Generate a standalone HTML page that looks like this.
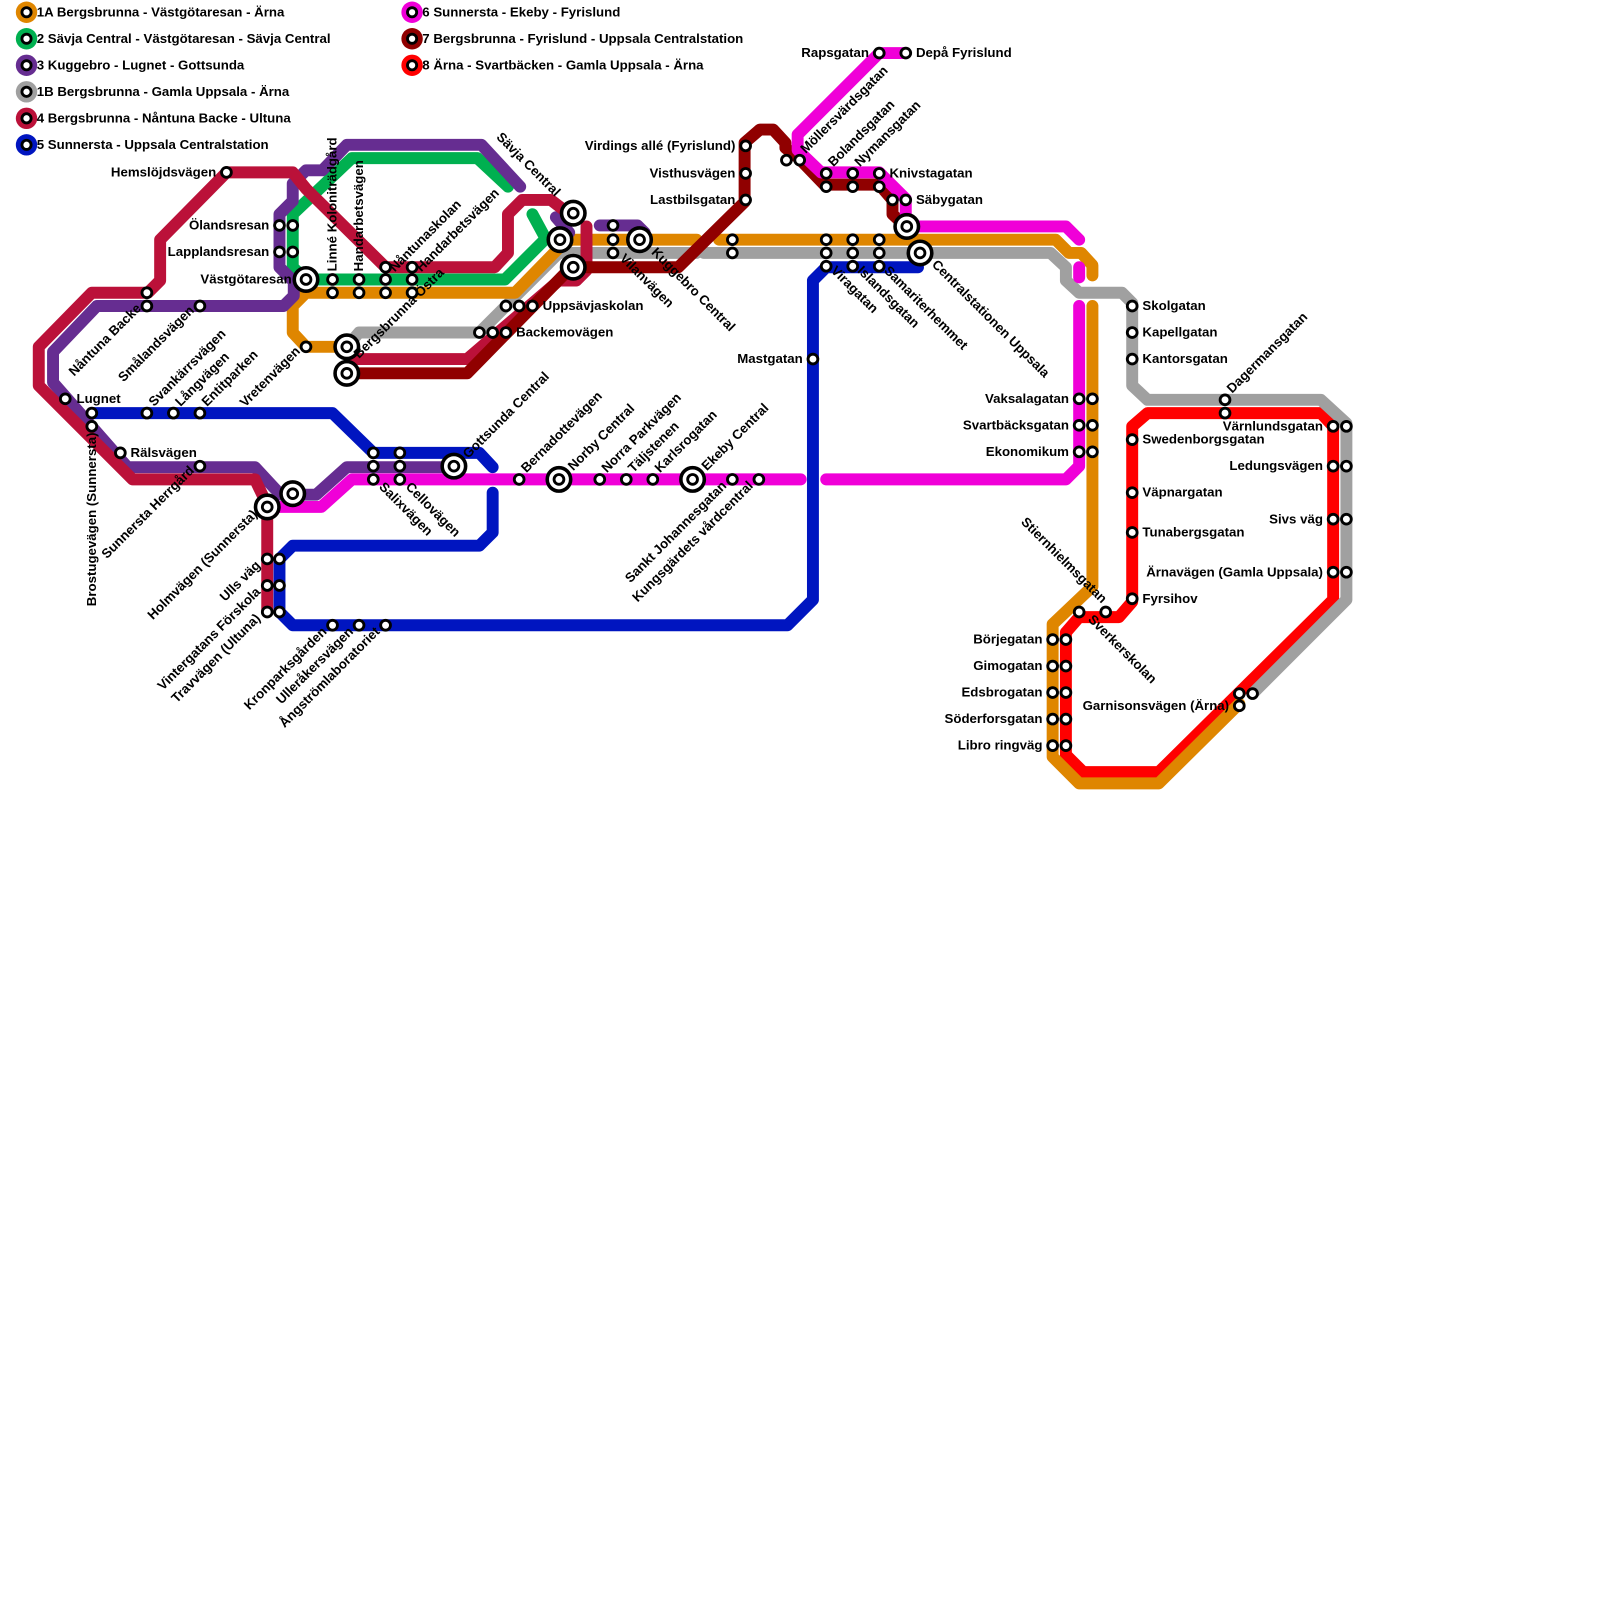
<!DOCTYPE html>
<html><head><meta charset="utf-8"><style>
html,body{margin:0;padding:0;background:#fff;width:1600px;height:1600px;overflow:hidden}
svg{display:block}
text{font-family:"Liberation Sans",sans-serif;font-weight:bold;font-size:13px;fill:#000}
.l{fill:none;stroke-width:11.7;stroke-linejoin:round;stroke-linecap:round}
.s{fill:#fff;stroke:#000;stroke-width:2.8}
</style></head><body>
<svg width="1600" height="1600" viewBox="0 0 1600 1600" xmlns="http://www.w3.org/2000/svg">
<g transform="scale(1.02)">
<!-- legend -->
<g>
<circle cx="26" cy="12" r="10.5" fill="#df8600"/><circle cx="26" cy="38" r="10.5" fill="#00b050"/><circle cx="26" cy="64" r="10.5" fill="#662d91"/><circle cx="26" cy="90" r="10.5" fill="#a0a0a0"/><circle cx="26" cy="116" r="10.5" fill="#bb1139"/><circle cx="26" cy="142" r="10.5" fill="#0015c0"/>
<circle cx="404" cy="12" r="10.5" fill="#f000d8"/><circle cx="404" cy="38" r="10.5" fill="#900000"/><circle cx="404" cy="64" r="10.5" fill="#ff0000"/>
<g class="s"><circle cx="26" cy="12" r="4.5"/><circle cx="26" cy="38" r="4.5"/><circle cx="26" cy="64" r="4.5"/><circle cx="26" cy="90" r="4.5"/><circle cx="26" cy="116" r="4.5"/><circle cx="26" cy="142" r="4.5"/><circle cx="404" cy="12" r="4.5"/><circle cx="404" cy="38" r="4.5"/><circle cx="404" cy="64" r="4.5"/></g>
<text x="36" y="16">1A Bergsbrunna - Västgötaresan - Ärna</text>
<text x="36" y="42">2 Sävja Central - Västgötaresan - Sävja Central</text>
<text x="36" y="68">3 Kuggebro - Lugnet - Gottsunda</text>
<text x="36" y="94">1B Bergsbrunna - Gamla Uppsala - Ärna</text>
<text x="36" y="120">4 Bergsbrunna - Nåntuna Backe - Ultuna</text>
<text x="36" y="146">5 Sunnersta - Uppsala Centralstation</text>
<text x="414" y="16">6 Sunnersta - Ekeby - Fyrislund</text>
<text x="414" y="42">7 Bergsbrunna - Fyrislund - Uppsala Centralstation</text>
<text x="414" y="68">8 Ärna - Svartbäcken - Gamla Uppsala - Ärna</text>
</g>

<!-- lines -->
<polyline class="l" stroke="#ff0000" points="1045,620 1058,605 1097,605 1110,590 1110,418 1125,405 1295,405 1307,418 1307,588 1136,757 1062,757 1045,740 1045,620"/>
<polyline class="l" stroke="#a0a0a0" points="340,340 352,326 470,326 548,248 683,248"/>
<polyline class="l" stroke="#a0a0a0" points="690,248 1030,248 1045,262 1045,275 1058,287 1100,287 1110,297 1110,378 1125,392 1295,392 1320,415 1320,588 1228,680"/>
<polyline class="l" stroke="#df8600" points="330,340 300,340 287,326 287,300 300,287 505,287 548,243 560,235 683,235"/>
<polyline class="l" stroke="#df8600" points="705,235 1035,235 1048,248 1060,248 1071,260 1071,270"/>
<polyline class="l" stroke="#df8600" points="1071,300 1071,575 1032,612 1032,742 1058,768 1136,768 1215,690"/>
<polyline class="l" stroke="#00b050" points="498,183 468,155 345,155 287,210 287,262 300,274 495,274 535,234 522,210"/>
<polyline class="l" stroke="#662d91" points="510,183 472,142 340,142 316,167 300,167 287,180 287,197 274,210 274,262 288,276 288,290 278,300 95,300 52,345 52,375 125,458 250,458 275,485 310,485 340,458 445,458"/>
<polyline class="l" stroke="#662d91" points="545,213 558,228"/>
<polyline class="l" stroke="#662d91" points="588,221 625,221 632,228"/>
<polyline class="l" stroke="#bb1139" points="262,600 262,495 250,470 130,470 38,378 38,340 90,287 145,287 157,275 157,235 222,169 287,169 300,185 378,262 485,262 498,248 498,210 512,196 540,196 553,206"/>
<polyline class="l" stroke="#bb1139" points="575,222 575,265 565,275 548,275 458,352 345,352"/>
<polyline class="l" stroke="#900000" points="345,366 458,366 560,262 665,262 730,198 730,140 745,127 758,127 770,140 770,145 783,155 808,181 862,181 875,196 875,210 888,222"/>
<polyline class="l" stroke="#0015c0" points="90,405 326,405 366,444 470,444 483,458"/>
<polyline class="l" stroke="#0015c0" points="483,483 483,522 470,535 287,535 274,548 274,600 287,613 772,613 797,588 797,275 810,262 900,262"/>
<polyline class="l" stroke="#f000d8" points="262,497 315,497 345,470 785,470"/>
<polyline class="l" stroke="#f000d8" points="810,470 1045,470 1058,457 1058,300"/>
<polyline class="l" stroke="#f000d8" points="1058,262 1058,272"/>
<polyline class="l" stroke="#f000d8" points="888,222 1045,222 1058,235"/>
<polyline class="l" stroke="#f000d8" points="888,52 862,52 782,132 782,147 805,169 862,169 888,195 888,222"/>

<!-- small stations -->
<g class="s">
<circle cx="222" cy="169" r="4.8"/>
<circle cx="274" cy="221" r="4.8"/><circle cx="287" cy="221" r="4.8"/>
<circle cx="274" cy="247" r="4.8"/><circle cx="287" cy="247" r="4.8"/>
<circle cx="144" cy="287" r="4.8"/><circle cx="144" cy="300" r="4.8"/>
<circle cx="196" cy="300" r="4.8"/>
<circle cx="300" cy="340" r="4.8"/>
<circle cx="326" cy="274" r="4.8"/><circle cx="326" cy="287" r="4.8"/>
<circle cx="352" cy="274" r="4.8"/><circle cx="352" cy="287" r="4.8"/>
<circle cx="378" cy="262" r="4.8"/><circle cx="378" cy="274" r="4.8"/><circle cx="378" cy="287" r="4.8"/>
<circle cx="404" cy="262" r="4.8"/><circle cx="404" cy="274" r="4.8"/><circle cx="404" cy="287" r="4.8"/>
<circle cx="496" cy="300" r="4.8"/><circle cx="509" cy="300" r="4.8"/><circle cx="522" cy="300" r="4.8"/>
<circle cx="470" cy="326" r="4.8"/><circle cx="483" cy="326" r="4.8"/><circle cx="496" cy="326" r="4.8"/>
<circle cx="601" cy="221" r="4.8"/><circle cx="601" cy="235" r="4.8"/><circle cx="601" cy="248" r="4.8"/>
<circle cx="718" cy="235" r="4.8"/><circle cx="718" cy="248" r="4.8"/>
<circle cx="731" cy="143" r="4.8"/><circle cx="731" cy="170" r="4.8"/><circle cx="731" cy="196" r="4.8"/>
<circle cx="771" cy="157" r="4.8"/><circle cx="784" cy="157" r="4.8"/>
<circle cx="862" cy="52" r="4.8"/><circle cx="888" cy="52" r="4.8"/>
<circle cx="810" cy="170" r="4.8"/><circle cx="810" cy="183" r="4.8"/>
<circle cx="836" cy="170" r="4.8"/><circle cx="836" cy="183" r="4.8"/>
<circle cx="862" cy="170" r="4.8"/><circle cx="862" cy="183" r="4.8"/>
<circle cx="875" cy="196" r="4.8"/><circle cx="888" cy="196" r="4.8"/>
<circle cx="810" cy="235" r="4.8"/><circle cx="810" cy="248" r="4.8"/><circle cx="810" cy="261" r="4.8"/>
<circle cx="836" cy="235" r="4.8"/><circle cx="836" cy="248" r="4.8"/><circle cx="836" cy="261" r="4.8"/>
<circle cx="862" cy="235" r="4.8"/><circle cx="862" cy="248" r="4.8"/><circle cx="862" cy="261" r="4.8"/>
<circle cx="797" cy="352" r="4.8"/>
<circle cx="1110" cy="300" r="4.8"/><circle cx="1110" cy="326" r="4.8"/><circle cx="1110" cy="352" r="4.8"/>
<circle cx="1058" cy="391" r="4.8"/><circle cx="1071" cy="391" r="4.8"/>
<circle cx="1058" cy="417" r="4.8"/><circle cx="1071" cy="417" r="4.8"/>
<circle cx="1058" cy="443" r="4.8"/><circle cx="1071" cy="443" r="4.8"/>
<circle cx="1201" cy="392" r="4.8"/><circle cx="1201" cy="405" r="4.8"/>
<circle cx="1307" cy="418" r="4.8"/><circle cx="1320" cy="418" r="4.8"/>
<circle cx="1307" cy="457" r="4.8"/><circle cx="1320" cy="457" r="4.8"/>
<circle cx="1307" cy="509" r="4.8"/><circle cx="1320" cy="509" r="4.8"/>
<circle cx="1307" cy="561" r="4.8"/><circle cx="1320" cy="561" r="4.8"/>
<circle cx="1110" cy="431" r="4.8"/><circle cx="1110" cy="483" r="4.8"/><circle cx="1110" cy="522" r="4.8"/><circle cx="1110" cy="587" r="4.8"/>
<circle cx="1058" cy="600" r="4.8"/><circle cx="1084" cy="600" r="4.8"/>
<circle cx="1032" cy="627" r="4.8"/><circle cx="1045" cy="627" r="4.8"/>
<circle cx="1032" cy="653" r="4.8"/><circle cx="1045" cy="653" r="4.8"/>
<circle cx="1032" cy="679" r="4.8"/><circle cx="1045" cy="679" r="4.8"/>
<circle cx="1032" cy="705" r="4.8"/><circle cx="1045" cy="705" r="4.8"/>
<circle cx="1032" cy="731" r="4.8"/><circle cx="1045" cy="731" r="4.8"/>
<circle cx="1215" cy="680" r="4.8"/><circle cx="1228" cy="680" r="4.8"/><circle cx="1215" cy="692" r="4.8"/>
<circle cx="64" cy="391" r="4.8"/>
<circle cx="90" cy="405" r="4.8"/><circle cx="90" cy="418" r="4.8"/>
<circle cx="144" cy="405" r="4.8"/><circle cx="170" cy="405" r="4.8"/><circle cx="196" cy="405" r="4.8"/>
<circle cx="118" cy="444" r="4.8"/><circle cx="196" cy="457" r="4.8"/>
<circle cx="262" cy="548" r="4.8"/><circle cx="274" cy="548" r="4.8"/>
<circle cx="262" cy="574" r="4.8"/><circle cx="274" cy="574" r="4.8"/>
<circle cx="262" cy="600" r="4.8"/><circle cx="274" cy="600" r="4.8"/>
<circle cx="326" cy="613" r="4.8"/><circle cx="352" cy="613" r="4.8"/><circle cx="378" cy="613" r="4.8"/>
<circle cx="366" cy="444" r="4.8"/><circle cx="366" cy="457" r="4.8"/><circle cx="366" cy="470" r="4.8"/>
<circle cx="392" cy="444" r="4.8"/><circle cx="392" cy="457" r="4.8"/><circle cx="392" cy="470" r="4.8"/>
<circle cx="509" cy="470" r="4.8"/>
<circle cx="588" cy="470" r="4.8"/><circle cx="614" cy="470" r="4.8"/><circle cx="640" cy="470" r="4.8"/>
<circle cx="718" cy="470" r="4.8"/><circle cx="744" cy="470" r="4.8"/>
</g>
<!-- interchanges -->
<g class="s">
<circle cx="300" cy="274" r="11.5" stroke-width="3.5"/><circle cx="300" cy="274" r="4.8"/>
<circle cx="340" cy="340" r="11.5" stroke-width="3.5"/><circle cx="340" cy="340" r="4.8"/>
<circle cx="340" cy="366" r="11.5" stroke-width="3.5"/><circle cx="340" cy="366" r="4.8"/>
<circle cx="562" cy="209" r="11.5" stroke-width="3.5"/><circle cx="562" cy="209" r="4.8"/>
<circle cx="549" cy="235" r="11.5" stroke-width="3.5"/><circle cx="549" cy="235" r="4.8"/>
<circle cx="562" cy="262" r="11.5" stroke-width="3.5"/><circle cx="562" cy="262" r="4.8"/>
<circle cx="627" cy="235" r="11.5" stroke-width="3.5"/><circle cx="627" cy="235" r="4.8"/>
<circle cx="889" cy="222" r="11.5" stroke-width="3.5"/><circle cx="889" cy="222" r="4.8"/>
<circle cx="902" cy="248" r="11.5" stroke-width="3.5"/><circle cx="902" cy="248" r="4.8"/>
<circle cx="262" cy="497" r="11.5" stroke-width="3.5"/><circle cx="262" cy="497" r="4.8"/>
<circle cx="287" cy="484" r="11.5" stroke-width="3.5"/><circle cx="287" cy="484" r="4.8"/>
<circle cx="445" cy="457" r="11.5" stroke-width="3.5"/><circle cx="445" cy="457" r="4.8"/>
<circle cx="548" cy="470" r="11.5" stroke-width="3.5"/><circle cx="548" cy="470" r="4.8"/>
<circle cx="679" cy="470" r="11.5" stroke-width="3.5"/><circle cx="679" cy="470" r="4.8"/>
</g>

<!-- horizontal labels -->
<g>
<text x="212" y="173" text-anchor="end">Hemslöjdsvägen</text>
<text x="264" y="225" text-anchor="end">Ölandsresan</text>
<text x="264" y="251" text-anchor="end">Lapplandsresan</text>
<text x="286" y="278" text-anchor="end">Västgötaresan</text>
<text x="532" y="304">Uppsävjaskolan</text>
<text x="506" y="330">Backemovägen</text>
<text x="721" y="147" text-anchor="end">Virdings allé (Fyrislund)</text>
<text x="721" y="174" text-anchor="end">Visthusvägen</text>
<text x="721" y="200" text-anchor="end">Lastbilsgatan</text>
<text x="852" y="56" text-anchor="end">Rapsgatan</text>
<text x="898" y="56">Depå Fyrislund</text>
<text x="872" y="174">Knivstagatan</text>
<text x="898" y="200">Säbygatan</text>
<text x="787" y="356" text-anchor="end">Mastgatan</text>
<text x="1120" y="304">Skolgatan</text>
<text x="1120" y="330">Kapellgatan</text>
<text x="1120" y="356">Kantorsgatan</text>
<text x="1048" y="395" text-anchor="end">Vaksalagatan</text>
<text x="1048" y="421" text-anchor="end">Svartbäcksgatan</text>
<text x="1048" y="447" text-anchor="end">Ekonomikum</text>
<text x="1297" y="422" text-anchor="end">Värnlundsgatan</text>
<text x="1120" y="435">Swedenborgsgatan</text>
<text x="1297" y="461" text-anchor="end">Ledungsvägen</text>
<text x="1120" y="487">Väpnargatan</text>
<text x="1297" y="513" text-anchor="end">Sivs väg</text>
<text x="1120" y="526">Tunabergsgatan</text>
<text x="1297" y="565" text-anchor="end">Ärnavägen (Gamla Uppsala)</text>
<text x="1120" y="591">Fyrsihov</text>
<text x="1022" y="631" text-anchor="end">Börjegatan</text>
<text x="1022" y="657" text-anchor="end">Gimogatan</text>
<text x="1022" y="683" text-anchor="end">Edsbrogatan</text>
<text x="1022" y="709" text-anchor="end">Söderforsgatan</text>
<text x="1022" y="735" text-anchor="end">Libro ringväg</text>
<text x="1205" y="696" text-anchor="end">Garnisonsvägen (Ärna)</text>
<text x="75" y="395">Lugnet</text>
<text x="128" y="448">Rälsvägen</text>
</g>
<!-- rotated -45, anchor end -->
<g text-anchor="end">
<text transform="translate(139,303) rotate(-45)">Nåntuna Backe</text>
<text transform="translate(191,305) rotate(-45)">Smålandsvägen</text>
<text transform="translate(295,345) rotate(-45)">Vretenvägen</text>
<text transform="translate(191,462) rotate(-45)">Sunnersta Herrgård</text>
<text transform="translate(253,505) rotate(-45)">Holmvägen (Sunnersta)</text>
<text transform="translate(256,555) rotate(-45)">Ulls väg</text>
<text transform="translate(256,581) rotate(-45)">Vintergatans Förskola</text>
<text transform="translate(256,607) rotate(-45)">Travvägen (Ultuna)</text>
<text transform="translate(321,620) rotate(-45)">Kronparksgården</text>
<text transform="translate(347,620) rotate(-45)">Ulleråkersvägen</text>
<text transform="translate(373,620) rotate(-45)">Ångströmlaboratoriet</text>
<text transform="translate(713,477) rotate(-45)">Sankt Johannesgatan</text>
<text transform="translate(739,477) rotate(-45)">Kungsgärdets vårdcentral</text>
</g>
<!-- rotated -45, anchor start -->
<g>
<text transform="translate(151,399) rotate(-45)">Svankärrsvägen</text>
<text transform="translate(177,399) rotate(-45)">Långvägen</text>
<text transform="translate(203,399) rotate(-45)">Entitparken</text>
<text transform="translate(352,352) rotate(-45)">Bergsbrunna</text>
<text transform="translate(412,292) rotate(-45)">Östra</text>
<text transform="translate(387,267) rotate(-45)">Nåntunaskolan</text>
<text transform="translate(413,267) rotate(-45)">Handarbetsvägen</text>
<text transform="translate(790,151) rotate(-45)">Möllersvärdsgatan</text>
<text transform="translate(817,164) rotate(-45)">Bolandsgatan</text>
<text transform="translate(843,164) rotate(-45)">Nymansgatan</text>
<text transform="translate(1208,386) rotate(-45)">Dagermansgatan</text>
<text transform="translate(459,450) rotate(-45)">Gottsunda Central</text>
<text transform="translate(516,464) rotate(-45)">Bernadottevägen</text>
<text transform="translate(562,462) rotate(-45)">Norby Central</text>
<text transform="translate(595,464) rotate(-45)">Norra Parkvägen</text>
<text transform="translate(621,464) rotate(-45)">Täljstenen</text>
<text transform="translate(647,464) rotate(-45)">Karlsrogatan</text>
<text transform="translate(693,462) rotate(-45)">Ekeby Central</text>
</g>
<!-- rotated +45 -->
<g>
<text transform="translate(486,135) rotate(45)">Sävja Central</text>
<text transform="translate(607,254) rotate(45)">Vilanvägen</text>
<text transform="translate(638,248) rotate(45)">Kuggebro Central</text>
<text transform="translate(814,266) rotate(45)">Viragatan</text>
<text transform="translate(840,266) rotate(45)">Islandsgatan</text>
<text transform="translate(866,266) rotate(45)">Samariterhemmet</text>
<text transform="translate(913,260) rotate(45)">Centralstationen Uppsala</text>
<text transform="translate(371,478) rotate(45)">Salixvägen</text>
<text transform="translate(397,478) rotate(45)">Cellovägen</text>
<text transform="translate(1066,608) rotate(45)">Sverkerskolan</text>
<text transform="translate(1080,592) rotate(45)" text-anchor="end">Stiernhielmsgatan</text>
</g>
<!-- rotated -90 -->
<g>
<text transform="translate(330,266) rotate(-90)">Linné Koloniträdgård</text>
<text transform="translate(356,266) rotate(-90)">Handarbetsvägen</text>
<text transform="translate(94,424) rotate(-90)" text-anchor="end">Brostugevägen (Sunnersta)</text>
</g>
</g>
</svg>
</body></html>
